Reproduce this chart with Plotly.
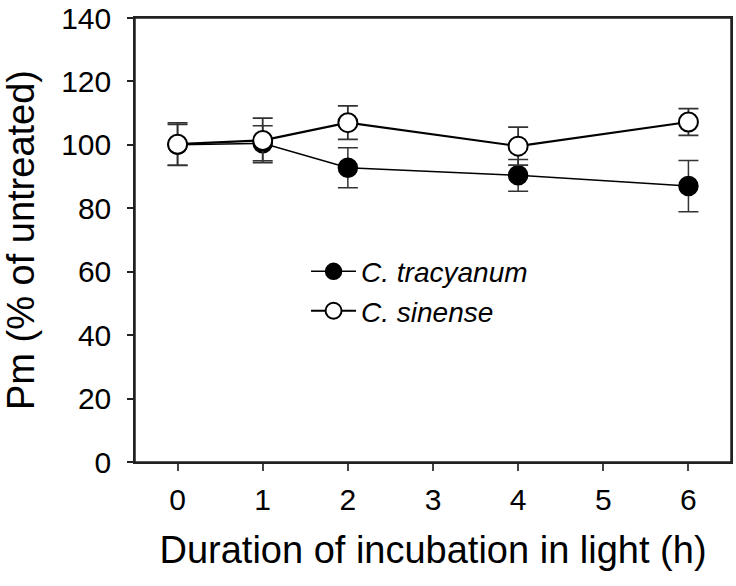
import plotly.graph_objects as go

hours = [0, 1, 2, 4, 6]
tracyanum = [100.0, 100.5, 92.8, 90.4, 87.0]
tracyanum_err = [6.4, 5.5, 6.3, 5.0, 8.1]
sinense = [100.2, 101.4, 107.0, 99.6, 107.2]
sinense_err = [6.7, 7.0, 5.3, 6.0, 4.2]
x_ticks = [0, 1, 2, 3, 4, 5, 6]
y_ticks = [0, 20, 40, 60, 80, 100, 120, 140]

FONT = "Arial, Liberation Sans, sans-serif"

fig = go.Figure()
fig.add_trace(go.Scatter(
    x=hours, y=tracyanum, name="C. tracyanum", mode="lines+markers",
    line=dict(color="black", width=1.5),
    marker=dict(symbol="circle", size=19, color="black", line=dict(color="black", width=1.5)),
    error_y=dict(type="data", array=tracyanum_err, color="#333333", thickness=1.5, width=10),
))
fig.add_trace(go.Scatter(
    x=hours, y=sinense, name="C. sinense", mode="lines+markers",
    line=dict(color="black", width=2.2),
    marker=dict(symbol="circle", size=19, color="white", line=dict(color="black", width=2)),
    error_y=dict(type="data", array=sinense_err, color="#333333", thickness=1.8, width=10),
))

# plot frame
fig.add_shape(type="rect", xref="paper", yref="paper", x0=0, y0=0, x1=1, y1=1,
              line=dict(color="#222", width=1.5), fillcolor="rgba(0,0,0,0)", layer="above")

fig.update_layout(
    width=736, height=586,
    margin=dict(l=135, r=5, t=18, b=124, autoexpand=False),
    paper_bgcolor="white", plot_bgcolor="white",
    font=dict(family=FONT, size=30, color="black"),
    showlegend=True,
    legend=dict(
        x=0.287, y=0.485, xanchor="left", yanchor="top",
        font=dict(family=FONT, size=28, style="italic"),
        bgcolor="rgba(0,0,0,0)", itemwidth=45, tracegroupgap=0,
    ),
    xaxis=dict(
        range=[-0.5, 6.5], tickvals=x_ticks, ticktext=[str(v) for v in x_ticks],
        showgrid=False, zeroline=False, showline=True, linecolor="#222", linewidth=1.5,
        mirror=True, ticks="outside", ticklen=7, tickwidth=1.5, tickcolor="#444",
        ticklabelstandoff=3, automargin=False, ticklabeloverflow="allow",
        title=dict(text="Duration of incubation in light (h)", font=dict(size=38), standoff=22),
    ),
    yaxis=dict(
        range=[0, 140], tickvals=y_ticks, ticktext=[str(v) for v in y_ticks],
        showgrid=False, zeroline=False, showline=True, linecolor="#222", linewidth=1.5,
        mirror=True, ticks="outside", ticklen=6, tickwidth=1.5, tickcolor="#222",
        ticklabelstandoff=10, automargin=False, ticklabeloverflow="allow",
        title=dict(text="Pm (% of untreated)", font=dict(size=38), standoff=24),
    ),
)

fig.write_html("out.html", config={"displayModeBar": False},
               post_script="document.body.style.margin='0px';")
